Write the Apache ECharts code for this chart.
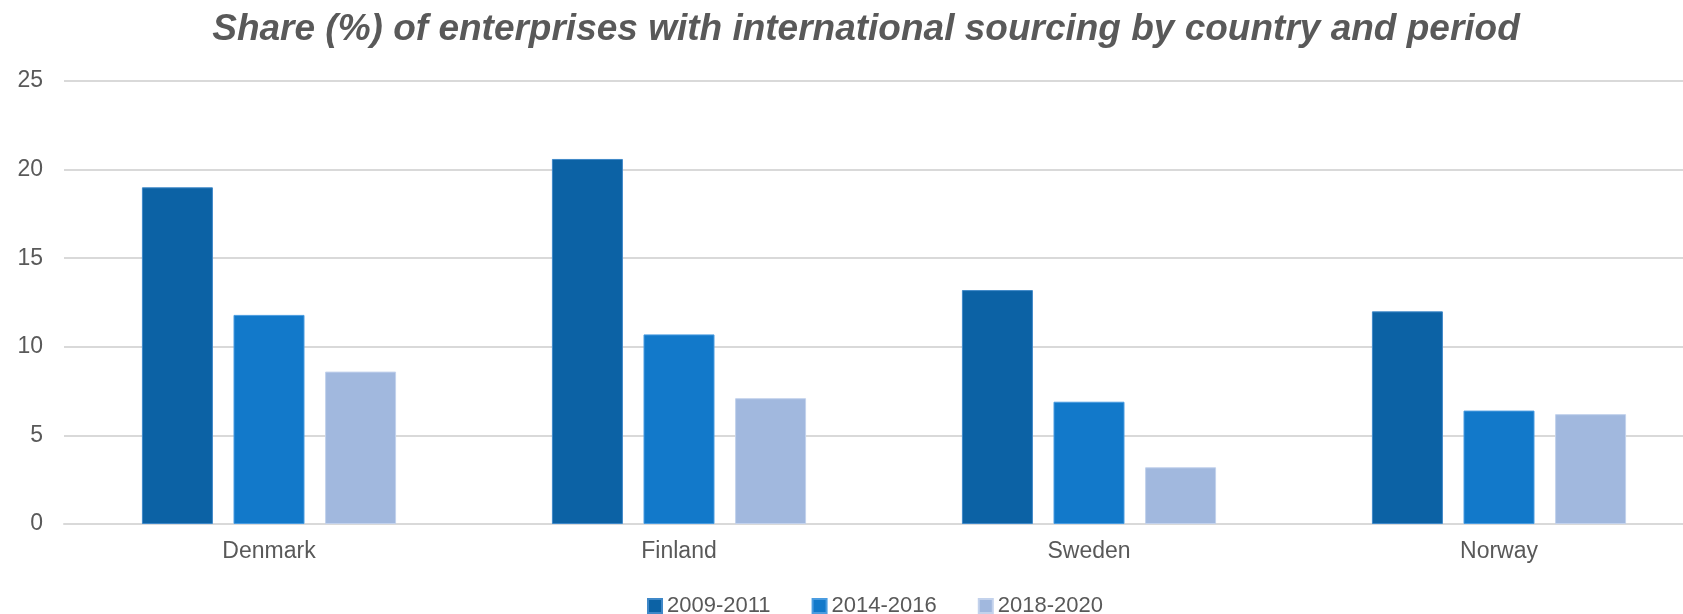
<!DOCTYPE html>
<html>
<head>
<meta charset="utf-8">
<style>
  html, body { margin: 0; padding: 0; background: #ffffff; overflow: hidden; }
  /* the plot area runs a little past the right edge of the window */
  #chart { width: 1704px; height: 614px; }
</style>
<script src="https://cdn.jsdelivr.net/npm/echarts@6/dist/echarts.min.js"></script>
</head>
<body>
<div id="chart"></div>
<script>
// Countries on the category axis
const countries = ['Denmark', 'Finland', 'Sweden', 'Norway'];

// Survey periods (one bar series each)
const periods = ['2009-2011', '2014-2016', '2018-2020'];

// Share (%) of enterprises with international sourcing
const share2009_2011 = [19.0, 20.6, 13.2, 12.0];
const share2014_2016 = [11.8, 10.7, 6.9, 6.4];
const share2018_2020 = [8.6, 7.1, 3.2, 6.2];

// Value-axis ticks
const yTicks = [0, 5, 10, 15, 20, 25];

const seriesValues = [share2009_2011, share2014_2016, share2018_2020];
const fills = ['#0C62A5', '#1279CA', '#A1B8DE'];
const edges = ['#3F88C8', '#4A9CE0', '#C3D2EC'];

const textColor = '#595959';
const fontFamily = '"Liberation Sans", Arial, sans-serif';

const chart = echarts.init(document.getElementById('chart'), null, { renderer: 'canvas' });

chart.setOption({
  backgroundColor: '#ffffff',
  animation: false,
  title: {
    text: 'Share (%) of enterprises with international sourcing by country and period',
    left: 861,
    top: 6,
    textAlign: 'center',
    textStyle: {
      color: textColor,
      fontFamily: fontFamily,
      fontSize: 37,
      fontWeight: 'bold',
      fontStyle: 'italic'
    }
  },
  legend: {
    data: periods,
    left: 642,
    top: 590,
    itemWidth: 14,
    itemHeight: 14,
    itemGap: 41,
    icon: 'rect',
    textStyle: {
      color: textColor,
      fontFamily: fontFamily,
      fontSize: 22
    }
  },
  grid: {
    left: 64,
    right: 0,
    top: 81,
    bottom: 90,
    containLabel: false
  },
  xAxis: {
    type: 'category',
    data: countries,
    axisTick: { show: false },
    axisLine: { show: true, lineStyle: { color: '#D9D9D9', width: 2 } },
    axisLabel: {
      color: textColor,
      fontFamily: fontFamily,
      fontSize: 23,
      margin: 16
    }
  },
  yAxis: {
    type: 'value',
    min: yTicks[0],
    max: yTicks[yTicks.length - 1],
    interval: yTicks[1] - yTicks[0],
    axisLine: { show: false },
    axisTick: { show: false },
    splitLine: { lineStyle: { color: '#D9D9D9', width: 2 } },
    axisLabel: {
      color: textColor,
      fontFamily: fontFamily,
      fontSize: 23,
      margin: 21
    }
  },
  series: periods.map((name, i) => ({
    name: name,
    type: 'bar',
    data: seriesValues[i],
    barWidth: 71,
    barGap: '29%',
    itemStyle: {
      color: fills[i],
      borderColor: edges[i],
      borderWidth: 1
    }
  }))
});
</script>
</body>
</html>
